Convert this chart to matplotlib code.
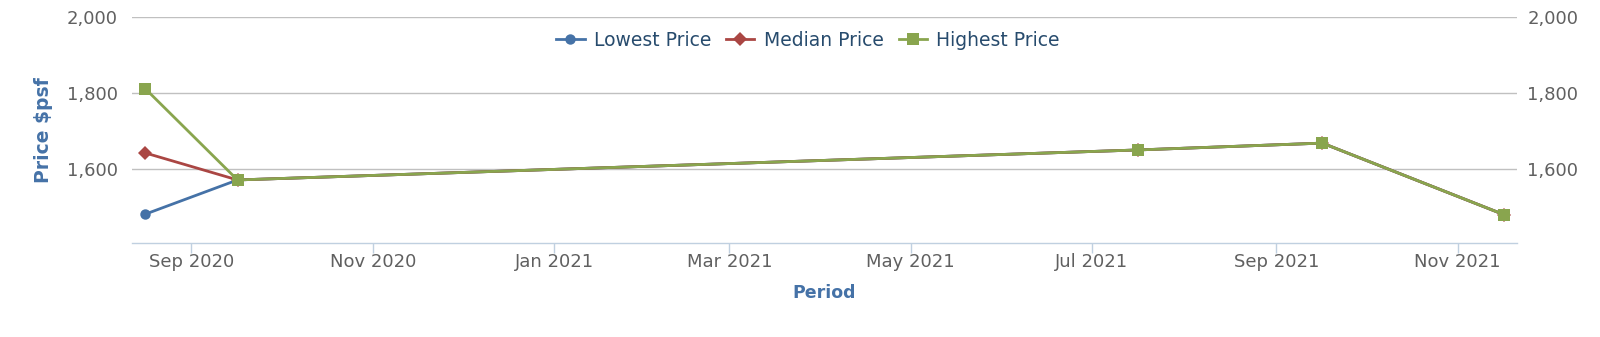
'''
Price $psf trend chart (lowest / median / highest) in a Highcharts-like style
'''
import matplotlib
matplotlib.use('Agg')
from matplotlib import pyplot as plt
from matplotlib.lines import Line2D
from matplotlib.ticker import FuncFormatter
import matplotlib.dates as mdates
import pandas as pd

# data
periods = pd.to_datetime(['2020-08-16 12:00', '2020-09-16 12:00', '2021-07-16 12:00',
                          '2021-09-16 12:00', '2021-11-16 12:00'])
lowest = [1481, 1571, 1650, 1668, 1480]
median = [1642, 1571, 1650, 1668, 1480]
highest = [1811, 1571, 1650, 1668, 1480]
y_ticks = [1600, 1800, 2000]

BLUE = '#4572A7'
RED = '#AA4643'
GREEN = '#89A54E'
LABEL = '#606060'
LEGEND_TXT = '#274b6d'
AXIS = '#C0D0E0'

fig = plt.figure(figsize=(16, 3.37), dpi=100)
ax = fig.add_axes([132 / 1600, 1 - 243 / 337, (1517 - 132) / 1600, (243 - 17) / 337])

series = [
    ('Lowest Price', lowest, BLUE, 'o', 7.5),
    ('Median Price', median, RED, 'D', 7.5),
    ('Highest Price', highest, GREEN, 's', 9),
]
handles = []
for z, (name, vals, color, marker, ms) in enumerate(series):
    ax.plot(periods, vals, color=color, lw=2, marker=marker, ms=ms,
            markeredgewidth=0, zorder=3 + z, clip_on=False)
    handles.append(Line2D([], [], color=color, lw=2, marker=marker, ms=ms,
                          markeredgewidth=0, label=name))

ax.set_xlim(pd.Timestamp('2020-08-12'), pd.Timestamp('2021-11-21'))
ax.set_ylim(1405, 2000)
ax.set_yticks(y_ticks)
fmt = FuncFormatter(lambda v, _: f'{int(v):,}')
ax.yaxis.set_major_formatter(fmt)
ax.xaxis.set_major_locator(mdates.MonthLocator(bymonth=[1, 3, 5, 7, 9, 11]))
ax.xaxis.set_major_formatter(mdates.DateFormatter('%b %Y'))

ax.grid(axis='y', color='#C0C0C0', lw=1)
ax.set_axisbelow(True)
for side in ['top', 'left', 'right']:
    ax.spines[side].set_visible(False)
ax.spines['bottom'].set_color(AXIS)
ax.spines['bottom'].set_linewidth(1)
ax.tick_params(axis='x', colors=AXIS, length=7, width=1, labelcolor=LABEL,
               labelsize=13, pad=0.5)
ax.tick_params(axis='y', length=0, labelcolor=LABEL, labelsize=13, pad=10)

ax2 = ax.twinx()
ax2.set_ylim(ax.get_ylim())
ax2.set_yticks(y_ticks)
ax2.yaxis.set_major_formatter(fmt)
ax2.tick_params(axis='y', length=0, labelcolor=LABEL, labelsize=13, pad=7.5)
for side in ['top', 'left', 'right', 'bottom']:
    ax2.spines[side].set_visible(False)

ax.set_xlabel('Period', color=BLUE, fontsize=12.5, fontweight='bold', labelpad=9)
ax.set_ylabel('Price $psf', color=BLUE, fontsize=13.5, fontweight='bold', labelpad=10)

fig.legend(handles=handles, loc='center', bbox_to_anchor=(0.505, 1 - 40 / 337),
           ncol=3, frameon=False, fontsize=13.5, labelcolor=LEGEND_TXT,
           handlelength=1.5, handletextpad=0.5, columnspacing=0.8)

fig.savefig('out.png', dpi=100)
